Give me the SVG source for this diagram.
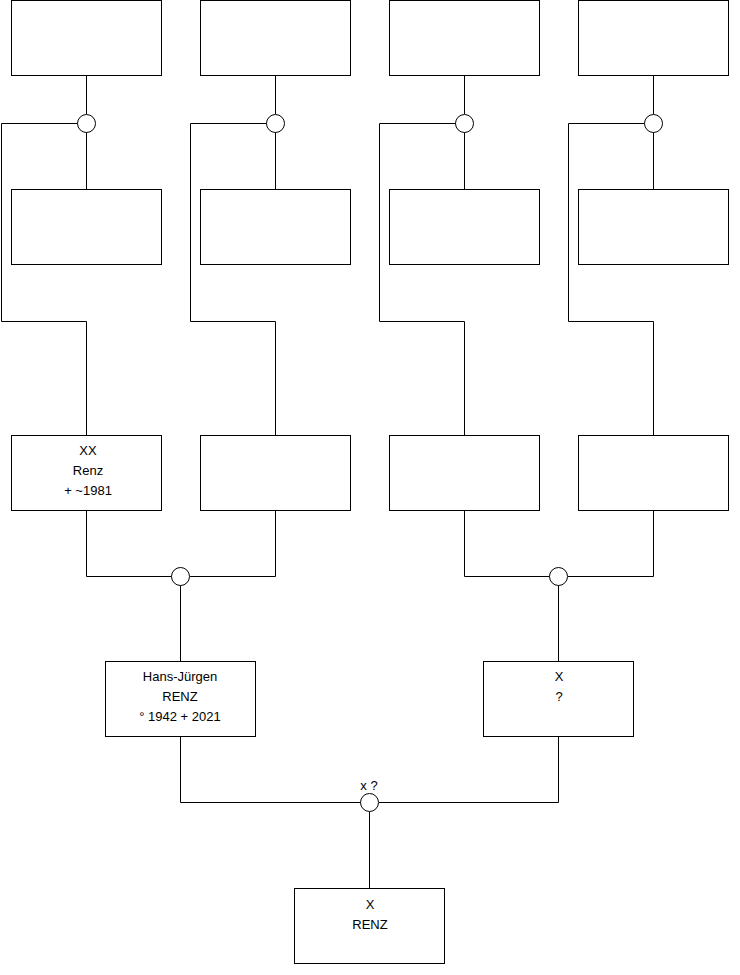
<svg xmlns="http://www.w3.org/2000/svg" width="740" height="975" viewBox="0 0 740 975">
<style>
.box{fill:#fff;stroke:#000;stroke-width:1}
.c{fill:#fff;stroke:#000;stroke-width:1}
.ln{fill:none;stroke:#000;stroke-width:1}
text{font-family:"Liberation Sans",Arial,sans-serif;font-size:13px;fill:#000;text-anchor:middle}
</style>
<rect width="740" height="975" fill="#fff"/>
<g id="connectors">
<path class="ln" d="M86.5 75 V114"/>
<path class="ln" d="M86.5 132 V189"/>
<path class="ln" d="M78 123.5 H1.5 V321.5 H86.5 V435"/>
<path class="ln" d="M275.5 75 V114"/>
<path class="ln" d="M275.5 132 V189"/>
<path class="ln" d="M267 123.5 H190.5 V321.5 H275.5 V435"/>
<path class="ln" d="M464.5 75 V114"/>
<path class="ln" d="M464.5 132 V189"/>
<path class="ln" d="M456 123.5 H379.5 V321.5 H464.5 V435"/>
<path class="ln" d="M653.5 75 V114"/>
<path class="ln" d="M653.5 132 V189"/>
<path class="ln" d="M645 123.5 H568.5 V321.5 H653.5 V435"/>
<path class="ln" d="M86.5 510 V576.5 H172"/>
<path class="ln" d="M190 576.5 H275.5 V510"/>
<path class="ln" d="M180.5 585 V661"/>
<path class="ln" d="M464.5 510 V576.5 H550"/>
<path class="ln" d="M568 576.5 H653.5 V510"/>
<path class="ln" d="M558.5 585 V661"/>
<path class="ln" d="M180.5 737 V802.5 H361"/>
<path class="ln" d="M379 802.5 H558.5 V737"/>
<path class="ln" d="M369.5 812 V888"/>
</g>
<g id="n1"><rect class="box" x="11.5" y="0.5" width="150" height="75"/></g>
<g id="n2"><rect class="box" x="200.5" y="0.5" width="150" height="75"/></g>
<g id="n3"><rect class="box" x="389.5" y="0.5" width="150" height="75"/></g>
<g id="n4"><rect class="box" x="578.5" y="0.5" width="150" height="75"/></g>
<g id="m1"><circle class="c" cx="86.5" cy="123.5" r="9"/></g>
<g id="m2"><circle class="c" cx="275.5" cy="123.5" r="9"/></g>
<g id="m3"><circle class="c" cx="464.5" cy="123.5" r="9"/></g>
<g id="m4"><circle class="c" cx="653.5" cy="123.5" r="9"/></g>
<g id="n5"><rect class="box" x="11.5" y="189.5" width="150" height="75"/></g>
<g id="n6"><rect class="box" x="200.5" y="189.5" width="150" height="75"/></g>
<g id="n7"><rect class="box" x="389.5" y="189.5" width="150" height="75"/></g>
<g id="n8"><rect class="box" x="578.5" y="189.5" width="150" height="75"/></g>
<g id="n9"><rect class="box" x="11.5" y="435.5" width="150" height="75"/>
<text x="88" y="455">XX</text><text x="88" y="475">Renz</text><text x="88" y="495">+ ~1981</text></g>
<g id="n10"><rect class="box" x="200.5" y="435.5" width="150" height="75"/></g>
<g id="n11"><rect class="box" x="389.5" y="435.5" width="150" height="75"/></g>
<g id="n12"><rect class="box" x="578.5" y="435.5" width="150" height="75"/></g>
<g id="m5"><circle class="c" cx="180.5" cy="576.5" r="9"/></g>
<g id="m6"><circle class="c" cx="558.5" cy="576.5" r="9"/></g>
<g id="n13"><rect class="box" x="105.5" y="661.5" width="150" height="75"/>
<text x="180" y="681">Hans-Jürgen</text><text x="180" y="701">RENZ</text><text x="180" y="721">° 1942 + 2021</text></g>
<g id="n14"><rect class="box" x="483.5" y="661.5" width="150" height="75"/>
<text x="559" y="681">X</text><text x="559" y="701">?</text></g>
<g id="m7"><circle class="c" cx="369.5" cy="802.5" r="9"/><text x="369" y="790">x ?</text></g>
<g id="n15"><rect class="box" x="294.5" y="888.5" width="150" height="75"/>
<text x="370" y="909">X</text><text x="370" y="929">RENZ</text></g>
</svg>
